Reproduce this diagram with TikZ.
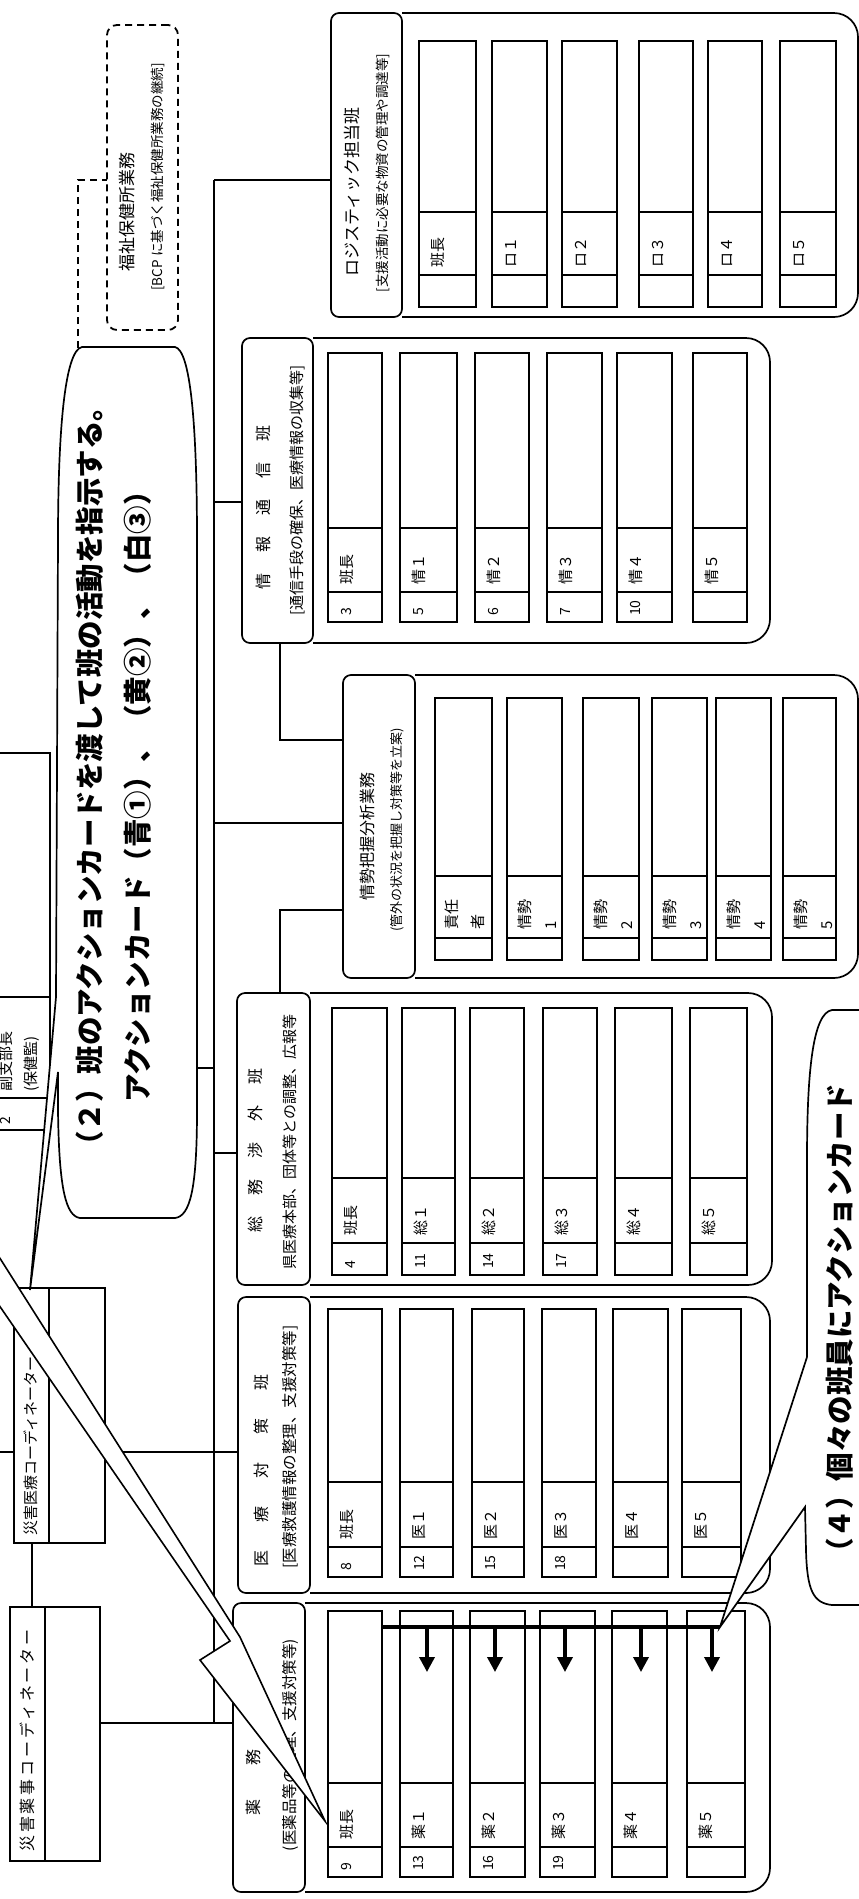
\documentclass[tikz,border=0pt]{standalone}
\usepackage{fontspec}
\setmainfont{Noto Sans CJK JP}
\usetikzlibrary{arrows.meta}
\newcommand\gsp{\hskip 21pt\relax}
\tikzset{
  ln/.style={line width=1.7pt},
  cellbox/.style={draw, line width=1.4pt, fill=white},
  cellln/.style={line width=1.4pt},
  lbl/.style={rotate=90, anchor=west, inner sep=0pt, font=\fontsize{15}{17}\selectfont},
  lbltwo/.style={rotate=90, anchor=west, inner sep=0pt, align=left, font=\fontsize{15}{26}\selectfont},
  num/.style={rotate=90, anchor=west, inner sep=0pt, font=\fontsize{14}{16}\selectfont},
  ttl/.style={rotate=90, inner sep=0pt, font=\fontsize{16}{18}\selectfont},
  subt/.style={rotate=90, inner sep=0pt, font=\fontsize{14}{16}\selectfont},
  big/.style={rotate=90, anchor=west, inner sep=0pt, font=\fontsize{28.5}{30}\selectfont\bfseries},
  hdr/.style={draw, line width=1.7pt, rounded corners=8pt, fill=white, inner sep=0pt, outer sep=0pt, anchor=north west},
  cbox/.style={draw, line width=1.7pt, fill=white, inner sep=0pt, outer sep=0pt, anchor=north west},
  dsh/.style={line width=1.8pt, dash pattern=on 7pt off 5pt},
}
\newcommand\grp[6]{%
  \draw[ln, rounded corners=24pt] (#3,#5) -- (#4,#5) -- (#4,#6) -- (#3,#6);
  \node[hdr, minimum width={(#3-#2)*1pt}, minimum height={(#6-#5)*1pt}] (#1) at (#2,#5) {};
}
\newcommand\slotrow[5]{%
  \foreach \nm/\xa/\xb/\lb/\nu in {#5} {
    \draw[cellbox] (\xa,#1) rectangle (\xb,#4);
    \draw[cellln] (\xa,#2) -- (\xb,#2) (\xa,#3) -- (\xb,#3);
    \node[lbl] (\nm-l) at (\xa+19,#3-7) {\lb};
    \node[num] (\nm-n) at (\xa+19,#4-6) {\nu};
  }
}
\begin{document}
\begin{tikzpicture}[x=1pt,y=-1pt]
\useasboundingbox (0,0) rectangle (859,1899);
\clip (0,0) rectangle (859,1899);

% ---------- groups ----------
\grp{gLogi}{331}{402}{858}{13}{317}
\grp{gInfo}{242}{313}{770}{338}{643}
\grp{gSit}{343}{415}{858}{675}{978}
\grp{gSoumu}{237}{310}{772}{993}{1285}
\grp{gIryo}{238}{310}{770}{1297}{1593}
\grp{gYaku}{233}{305}{770}{1603}{1892}

% ---------- connectors ----------
\coordinate (tTop) at (214,180);
\coordinate (tBot) at (214,1723);
\draw[ln] (tTop) -- (tBot);
\draw[ln] (tTop) -- (tTop -| gLogi.west);
\coordinate (t2) at (214,502);
\draw[ln] (t2) -- (t2 -| gInfo.west);
\coordinate (t3) at (214,823);
\draw[ln] (t3) -- (t3 -| gSit.west);
\coordinate (t5) at (214,1153);
\draw[ln] (t5) -- (t5 -| gSoumu.west);
\coordinate (e1) at (280,740);
\draw[ln] (e1 |- gInfo.south) -- (e1) -- (e1 -| gSit.west);
\coordinate (e2) at (280,910);
\draw[ln] (e2 |- gSoumu.north) -- (e2) -- (e2 -| gSit.west);
\coordinate (t6) at (0,1452);
\draw[ln] (t6) -- (t6 -| gIryo.west);
\draw[ln] (tBot) -- (tBot -| gYaku.west);
\draw[ln] (tBot) -- (60,1723);
\coordinate (t4) at (214,1068);
\draw[ln] (t4) -- (40,1068);
\coordinate (v1) at (32,1543);
\draw[ln] (v1) -- (32,1607);

% ---------- header texts ----------
\node[ttl, font=\fontsize{17}{19}\selectfont] (lgT) at (352,192) {ロジスティック担当班};
\node[subt, font=\fontsize{13.5}{15}\selectfont] (lgS) at (383,173) {[支援活動に必要な物資の管理や調達等]};
\node[ttl] (inT) at (263,507) {情\gsp 報\gsp 通\gsp 信\gsp 班};
\node[subt, font=\fontsize{15}{17}\selectfont] (inS) at (297,490) {[通信手段の確保、医療情報の収集等]};
\node[ttl] (stT) at (367,836) {情勢把握分析業務};
\node[subt, font=\fontsize{13}{15}\selectfont] (stS) at (397,830) {(管外の状況を把握し対策等を立案)};
\node[ttl] (smT) at (255,1150) {総\gsp 務\gsp 渉\gsp 外\gsp 班};
\node[subt, font=\fontsize{15}{17}\selectfont] (smS) at (290,1142) {県医療本部、団体等との調整、広報等};
\node[ttl] (irT) at (261,1470) {医\hskip28pt 療\hskip28pt 対\hskip28pt 策\hskip28pt 班};
\node[subt, font=\fontsize{15.5}{17}\selectfont] (irS) at (290,1447) {[医療救護情報の整理、支援対策等]};
\node[ttl] (ykT) at (253,1757) {薬\hskip34pt 務\hskip34pt 班};
\node[subt, font=\fontsize{15.5}{17}\selectfont] (ykS) at (290,1745) {(医薬品等の整理、支援対策等)};

% ---------- member slots ----------
\slotrow{41}{212}{275}{307}{lg0/419/476/班長/{}, lg1/492/547/ロ１/{}, lg2/562/617/ロ２/{}, lg3/639/693/ロ３/{}, lg4/708/762/ロ４/{}, lg5/780/836/ロ５/{}}
\slotrow{353}{528}{592}{622}{in0/328/382/班長/3, in1/400/457/情１/5, in2/475/529/情２/6, in3/547/602/情３/7, in4/617/672/情４/10, in5/693/747/情５/{}}
\slotrow{1008}{1178}{1243}{1275}{sm0/332/387/班長/4, sm1/402/455/総１/11, sm2/470/524/総２/14, sm3/543/597/総３/17, sm4/615/672/総４/{}, sm5/690/747/総５/{}}
\slotrow{1309}{1482}{1547}{1577}{ir0/328/382/班長/8, ir1/400/453/医１/12, ir2/472/524/医２/15, ir3/542/596/医３/18, ir4/613/668/医４/{}, ir5/682/741/医５/{}}
\slotrow{1611}{1783}{1847}{1877}{yk0/328/382/班長/9, yk1/400/453/薬１/13, yk2/470/525/薬２/16, yk3/540/595/薬３/19, yk4/612/667/薬４/{}, yk5/687/745/薬５/{}}
\foreach \nm/\xa/\xb/\lb in {st0/435/492/{責任\\者}, st1/507/562/{情勢\\1}, st2/583/639/{情勢\\2}, st3/652/707/{情勢\\3}, st4/716/771/{情勢\\4}, st5/783/836/{情勢\\5}} {
  \draw[cellbox] (\xa,698) rectangle (\xb,960);
  \draw[cellln] (\xa,876) -- (\xb,876) (\xa,938) -- (\xb,938);
  \node[lbltwo] (\nm-l) at (\xa+30,930) {\lb};
}

% ---------- dashed box ----------
\node[draw, dsh, rounded corners=10pt, minimum width=71pt, minimum height=305pt, anchor=north west, inner sep=0pt, outer sep=0pt] (fuk) at (107,25) {};
\node[ttl, font=\fontsize{17}{19}\selectfont] (fukT) at (127,212) {福祉保健所業務};
\node[subt, font=\fontsize{13.5}{15}\selectfont] (fukS) at (158,177) {[BCP に基づく福祉保健所業務の継続]};
\coordinate (dc) at (78,180);
\draw[dsh] (78,420) -- (dc) -- (dc -| fuk.west);

% ---------- left boxes ----------
\node[cbox, minimum width=55pt, minimum height=377pt] (fuku) at (-5,753) {};
\draw[ln] (-5,997) -- (50,997) (-5,1098) -- (50,1098);
\node[rotate=90, anchor=west, inner sep=0pt, align=left, font=\fontsize{15}{25}\selectfont] (fukuT) at (19,1092) {副支部長\\(保健監)};
\node[num] (fukuN) at (5,1125) {2};

\node[cbox, minimum width=91pt, minimum height=255pt] (irc) at (14,1288) {};
\draw[ln] (49,1288) -- (49,1543);
\node[rotate=90, anchor=west, inner sep=0pt, font=\fontsize{15}{17}\selectfont] (ircT) at (31,1536) {災害医療コーディネーター};

\node[cbox, minimum width=90pt, minimum height=254pt] (yjc) at (10,1607) {};
\draw[ln] (45,1607) -- (45,1861);
\node[rotate=90, anchor=west, inner sep=0pt, font=\fontsize{16}{18}\selectfont\addfontfeatures{LetterSpace=18}] (yjcT) at (27,1852) {災害薬事コーディネーター};

% ---------- lightning arrow ----------
\draw[line width=1.6pt, fill=white, line join=miter] (-30,1211) -- (240,1637) -- (325,1821) -- (200,1660) -- (230,1641) -- (-30,1263) -- cycle;

% ---------- callout (2) ----------
\draw[ln, fill=white] (82,347) -- (175,347) .. controls (190,350) and (197,420) .. (197,540) -- (197,1110) .. controls (197,1190) and (190,1216) .. (175,1218) -- (80,1218) .. controls (66,1216) and (59,1190) .. (58,1110) -- (58,1072) -- (30,1290) -- (56,997) -- (58,540) .. controls (58,420) and (66,350) .. (82,347) -- cycle;
\node[big] (c2a) at (90,1160) {（２）班のアクションカードを渡して班の活動を指示する。};
\node[big] (c2b) at (138,1103) {アクションカード（青①）、（黄②）、（白③）};

% ---------- callout (4) ----------
\draw[ln, fill=white] (880,1010) -- (832,1010) .. controls (813,1013) and (807,1070) .. (807,1160) -- (807,1357) -- (720,1627) -- (805,1507) -- (806,1550) .. controls (807,1590) and (813,1603) .. (832,1605) -- (880,1605);
\node[big] (c4) at (840,1567) {（４）個々の班員にアクションカード};

% ---------- distribution arrows ----------
\coordinate (tip4) at (720,1627);
\draw[line width=3.5pt] (yk0-l.south -| 382,0) ++(0,0) (382,1627) -- (tip4);
\foreach \xx in {427,495,565,641,712}
  \draw[line width=3.5pt, -{Triangle[length=15pt,width=15pt]}] (\xx,1625) -- (\xx,1672);
\end{tikzpicture}
\end{document}
